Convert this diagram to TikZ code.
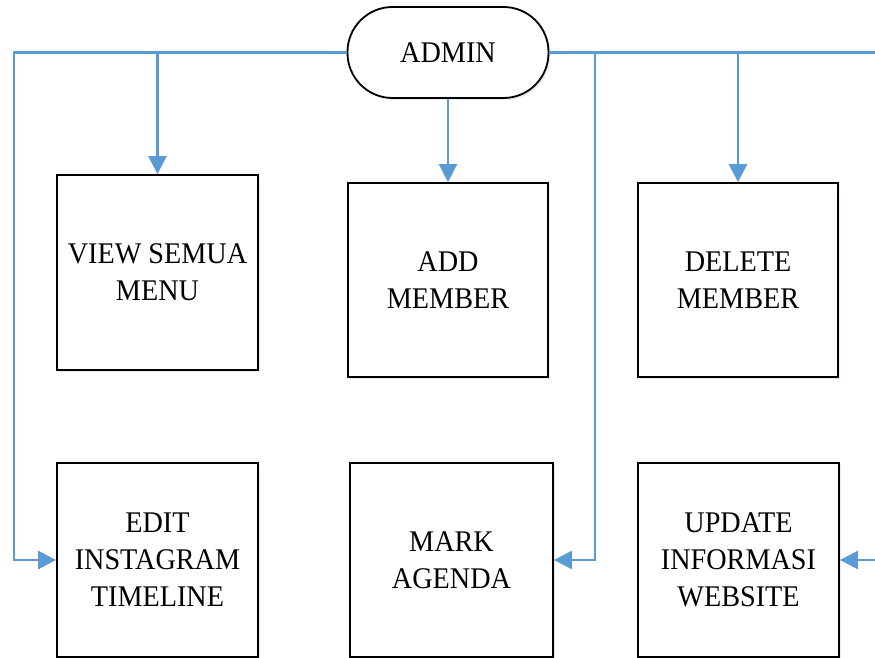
\documentclass[tikz,border=0pt]{standalone}
\usepackage{fontspec}
\setmainfont[FakeStretch=0.94]{Liberation Serif}
\usetikzlibrary{arrows.meta,shadows}
\definecolor{linkblue}{RGB}{91,155,213}
\begin{document}
\begin{tikzpicture}[x=1pt,y=-1pt,
  box/.style={draw=black,line width=1.8pt,fill=white,align=center,
    font=\fontsize{30}{37}\selectfont,inner sep=0pt,
    drop shadow={opacity=0.12,fill=blue!40!gray,shadow xshift=2pt,shadow yshift=-2pt}},
  pill/.style={box,rounded corners=45pt},
  conn/.style={draw=linkblue,line width=2.6pt,-{Triangle[width=18pt,length=18pt]}}]
\useasboundingbox (0,0) rectangle (875,658);
\node[pill,minimum width=201pt,minimum height=91pt] (admin) at (448,52.5) {ADMIN};
\node[box,minimum width=201pt,minimum height=195pt] (view) at (157.5,272.5) {VIEW SEMUA\\MENU};
\node[box,minimum width=200pt,minimum height=194pt] (add) at (448,280) {ADD\\MEMBER};
\node[box,minimum width=200pt,minimum height=194pt] (delete) at (738,280) {DELETE\\MEMBER};
\node[box,minimum width=201pt,minimum height=194pt] (edit) at (157.5,560) {EDIT\\INSTAGRAM\\TIMELINE};
\node[box,minimum width=203pt,minimum height=194pt] (mark) at (451.5,560) {MARK\\AGENDA};
\node[box,minimum width=201pt,minimum height=194pt] (update) at (738.5,560) {UPDATE\\INFORMASI\\WEBSITE};
\coordinate (cl) at (14,52.5);
\coordinate (cv) at (157.5,52.5);
\coordinate (cm) at (595,52.5);
\coordinate (cd) at (738,52.5);
\coordinate (cr) at (878,52.5);
\draw[conn] (admin.west) -- (cl) |- (edit.west);
\draw[conn] (cv) -- (view.north);
\draw[conn] (admin.south) -- (add.north);
\draw[conn] (admin.east) -- (cr) |- (update.east);
\draw[conn] (cm) |- (mark.east);
\draw[conn] (cd) -- (delete.north);
\end{tikzpicture}
\end{document}
